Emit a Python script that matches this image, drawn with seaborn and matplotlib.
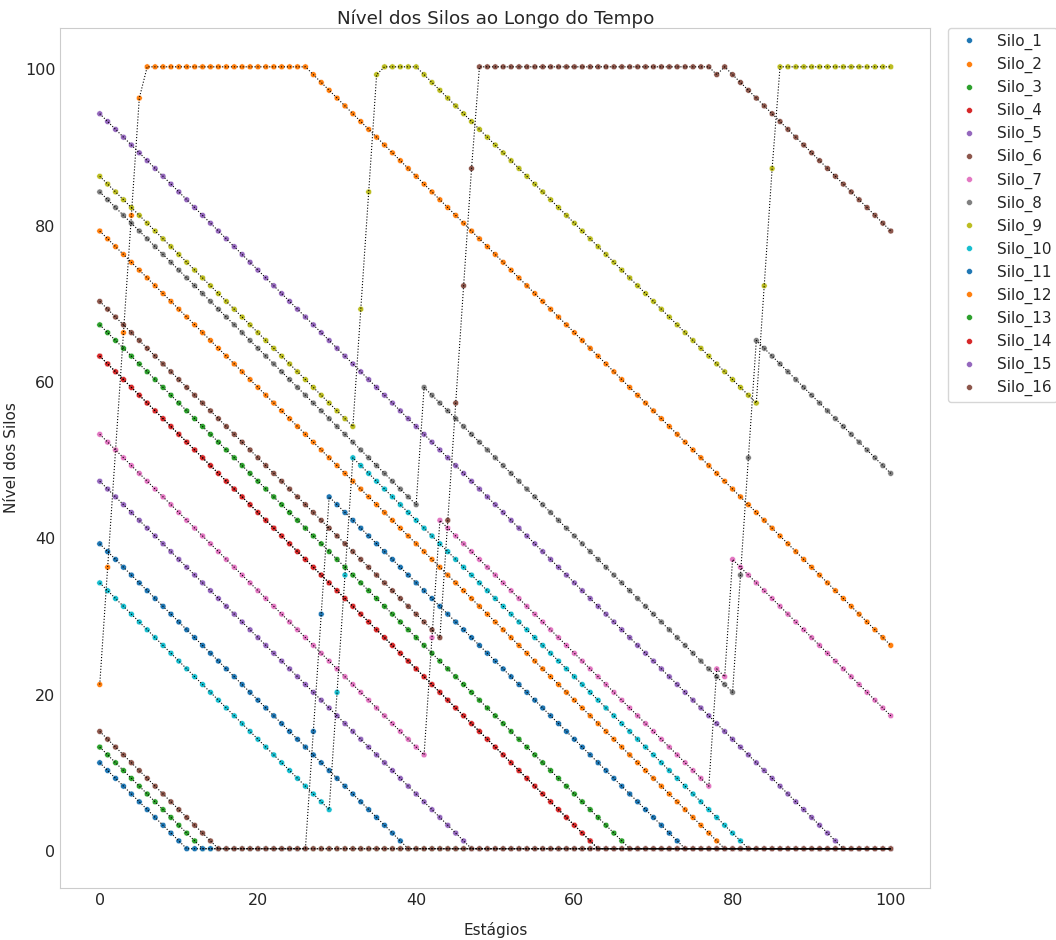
import numpy as np
import pandas as pd
import seaborn as sns
import matplotlib.pyplot as plt

# estágios e nível de cada silo
estagios = list(range(0, 101))

silo_1 = [39.3, 38.3, 37.3, 36.3, 35.3, 34.3, 33.3, 32.3, 31.3, 30.3,
          29.3, 28.3, 27.3, 26.3, 25.3, 24.3, 23.3, 22.3, 21.3, 20.3,
          19.3, 18.3, 17.3, 16.3, 15.3, 14.3, 13.3, 12.3, 11.3, 10.3,
          9.3, 8.3, 7.3, 6.3, 5.3, 4.3, 3.3, 2.3, 1.3, 0.3,
          0.3, 0.3, 0.3, 0.3, 0.3, 0.3, 0.3, 0.3, 0.3, 0.3,
          0.3, 0.3, 0.3, 0.3, 0.3, 0.3, 0.3, 0.3, 0.3, 0.3,
          0.3, 0.3, 0.3, 0.3, 0.3, 0.3, 0.3, 0.3, 0.3, 0.3,
          0.3, 0.3, 0.3, 0.3, 0.3, 0.3, 0.3, 0.3, 0.3, 0.3,
          0.3, 0.3, 0.3, 0.3, 0.3, 0.3, 0.3, 0.3, 0.3, 0.3,
          0.3, 0.3, 0.3, 0.3, 0.3, 0.3, 0.3, 0.3, 0.3, 0.3,
          0.3]

silo_2 = [21.3, 36.3, 51.3, 66.3, 81.3, 96.3, 100.3, 100.3, 100.3, 100.3,
          100.3, 100.3, 100.3, 100.3, 100.3, 100.3, 100.3, 100.3, 100.3, 100.3,
          100.3, 100.3, 100.3, 100.3, 100.3, 100.3, 100.3, 99.3, 98.3, 97.3,
          96.3, 95.3, 94.3, 93.3, 92.3, 91.3, 90.3, 89.3, 88.3, 87.3,
          86.3, 85.3, 84.3, 83.3, 82.3, 81.3, 80.3, 79.3, 78.3, 77.3,
          76.3, 75.3, 74.3, 73.3, 72.3, 71.3, 70.3, 69.3, 68.3, 67.3,
          66.3, 65.3, 64.3, 63.3, 62.3, 61.3, 60.3, 59.3, 58.3, 57.3,
          56.3, 55.3, 54.3, 53.3, 52.3, 51.3, 50.3, 49.3, 48.3, 47.3,
          46.3, 45.3, 44.3, 43.3, 42.3, 41.3, 40.3, 39.3, 38.3, 37.3,
          36.3, 35.3, 34.3, 33.3, 32.3, 31.3, 30.3, 29.3, 28.3, 27.3,
          26.3]

silo_3 = [13.3, 12.3, 11.3, 10.3, 9.3, 8.3, 7.3, 6.3, 5.3, 4.3,
          3.3, 2.3, 1.3, 0.3, 0.3, 0.3, 0.3, 0.3, 0.3, 0.3,
          0.3, 0.3, 0.3, 0.3, 0.3, 0.3, 0.3, 0.3, 0.3, 0.3,
          0.3, 0.3, 0.3, 0.3, 0.3, 0.3, 0.3, 0.3, 0.3, 0.3,
          0.3, 0.3, 0.3, 0.3, 0.3, 0.3, 0.3, 0.3, 0.3, 0.3,
          0.3, 0.3, 0.3, 0.3, 0.3, 0.3, 0.3, 0.3, 0.3, 0.3,
          0.3, 0.3, 0.3, 0.3, 0.3, 0.3, 0.3, 0.3, 0.3, 0.3,
          0.3, 0.3, 0.3, 0.3, 0.3, 0.3, 0.3, 0.3, 0.3, 0.3,
          0.3, 0.3, 0.3, 0.3, 0.3, 0.3, 0.3, 0.3, 0.3, 0.3,
          0.3, 0.3, 0.3, 0.3, 0.3, 0.3, 0.3, 0.3, 0.3, 0.3,
          0.3]

silo_4 = [63.3, 62.3, 61.3, 60.3, 59.3, 58.3, 57.3, 56.3, 55.3, 54.3,
          53.3, 52.3, 51.3, 50.3, 49.3, 48.3, 47.3, 46.3, 45.3, 44.3,
          43.3, 42.3, 41.3, 40.3, 39.3, 38.3, 37.3, 36.3, 35.3, 34.3,
          33.3, 32.3, 31.3, 30.3, 29.3, 28.3, 27.3, 26.3, 25.3, 24.3,
          23.3, 22.3, 21.3, 20.3, 19.3, 18.3, 17.3, 16.3, 15.3, 14.3,
          13.3, 12.3, 11.3, 10.3, 9.3, 8.3, 7.3, 6.3, 5.3, 4.3,
          3.3, 2.3, 1.3, 0.3, 0.3, 0.3, 0.3, 0.3, 0.3, 0.3,
          0.3, 0.3, 0.3, 0.3, 0.3, 0.3, 0.3, 0.3, 0.3, 0.3,
          0.3, 0.3, 0.3, 0.3, 0.3, 0.3, 0.3, 0.3, 0.3, 0.3,
          0.3, 0.3, 0.3, 0.3, 0.3, 0.3, 0.3, 0.3, 0.3, 0.3,
          0.3]

silo_5 = [94.3, 93.3, 92.3, 91.3, 90.3, 89.3, 88.3, 87.3, 86.3, 85.3,
          84.3, 83.3, 82.3, 81.3, 80.3, 79.3, 78.3, 77.3, 76.3, 75.3,
          74.3, 73.3, 72.3, 71.3, 70.3, 69.3, 68.3, 67.3, 66.3, 65.3,
          64.3, 63.3, 62.3, 61.3, 60.3, 59.3, 58.3, 57.3, 56.3, 55.3,
          54.3, 53.3, 52.3, 51.3, 50.3, 49.3, 48.3, 47.3, 46.3, 45.3,
          44.3, 43.3, 42.3, 41.3, 40.3, 39.3, 38.3, 37.3, 36.3, 35.3,
          34.3, 33.3, 32.3, 31.3, 30.3, 29.3, 28.3, 27.3, 26.3, 25.3,
          24.3, 23.3, 22.3, 21.3, 20.3, 19.3, 18.3, 17.3, 16.3, 15.3,
          14.3, 13.3, 12.3, 11.3, 10.3, 9.3, 8.3, 7.3, 6.3, 5.3,
          4.3, 3.3, 2.3, 1.3, 0.3, 0.3, 0.3, 0.3, 0.3, 0.3,
          0.3]

silo_6 = [70.3, 69.3, 68.3, 67.3, 66.3, 65.3, 64.3, 63.3, 62.3, 61.3,
          60.3, 59.3, 58.3, 57.3, 56.3, 55.3, 54.3, 53.3, 52.3, 51.3,
          50.3, 49.3, 48.3, 47.3, 46.3, 45.3, 44.3, 43.3, 42.3, 41.3,
          40.3, 39.3, 38.3, 37.3, 36.3, 35.3, 34.3, 33.3, 32.3, 31.3,
          30.3, 29.3, 28.3, 27.3, 42.3, 57.3, 72.3, 87.3, 100.3, 100.3,
          100.3, 100.3, 100.3, 100.3, 100.3, 100.3, 100.3, 100.3, 100.3, 100.3,
          100.3, 100.3, 100.3, 100.3, 100.3, 100.3, 100.3, 100.3, 100.3, 100.3,
          100.3, 100.3, 100.3, 100.3, 100.3, 100.3, 100.3, 100.3, 99.3, 100.3,
          99.3, 98.3, 97.3, 96.3, 95.3, 94.3, 93.3, 92.3, 91.3, 90.3,
          89.3, 88.3, 87.3, 86.3, 85.3, 84.3, 83.3, 82.3, 81.3, 80.3,
          79.3]

silo_7 = [53.3, 52.3, 51.3, 50.3, 49.3, 48.3, 47.3, 46.3, 45.3, 44.3,
          43.3, 42.3, 41.3, 40.3, 39.3, 38.3, 37.3, 36.3, 35.3, 34.3,
          33.3, 32.3, 31.3, 30.3, 29.3, 28.3, 27.3, 26.3, 25.3, 24.3,
          23.3, 22.3, 21.3, 20.3, 19.3, 18.3, 17.3, 16.3, 15.3, 14.3,
          13.3, 12.3, 27.3, 42.3, 41.3, 40.3, 39.3, 38.3, 37.3, 36.3,
          35.3, 34.3, 33.3, 32.3, 31.3, 30.3, 29.3, 28.3, 27.3, 26.3,
          25.3, 24.3, 23.3, 22.3, 21.3, 20.3, 19.3, 18.3, 17.3, 16.3,
          15.3, 14.3, 13.3, 12.3, 11.3, 10.3, 9.3, 8.3, 23.3, 22.3,
          37.3, 36.3, 35.3, 34.3, 33.3, 32.3, 31.3, 30.3, 29.3, 28.3,
          27.3, 26.3, 25.3, 24.3, 23.3, 22.3, 21.3, 20.3, 19.3, 18.3,
          17.3]

silo_8 = [84.3, 83.3, 82.3, 81.3, 80.3, 79.3, 78.3, 77.3, 76.3, 75.3,
          74.3, 73.3, 72.3, 71.3, 70.3, 69.3, 68.3, 67.3, 66.3, 65.3,
          64.3, 63.3, 62.3, 61.3, 60.3, 59.3, 58.3, 57.3, 56.3, 55.3,
          54.3, 53.3, 52.3, 51.3, 50.3, 49.3, 48.3, 47.3, 46.3, 45.3,
          44.3, 59.3, 58.3, 57.3, 56.3, 55.3, 54.3, 53.3, 52.3, 51.3,
          50.3, 49.3, 48.3, 47.3, 46.3, 45.3, 44.3, 43.3, 42.3, 41.3,
          40.3, 39.3, 38.3, 37.3, 36.3, 35.3, 34.3, 33.3, 32.3, 31.3,
          30.3, 29.3, 28.3, 27.3, 26.3, 25.3, 24.3, 23.3, 22.3, 21.3,
          20.3, 35.3, 50.3, 65.3, 64.3, 63.3, 62.3, 61.3, 60.3, 59.3,
          58.3, 57.3, 56.3, 55.3, 54.3, 53.3, 52.3, 51.3, 50.3, 49.3,
          48.3]

silo_9 = [86.3, 85.3, 84.3, 83.3, 82.3, 81.3, 80.3, 79.3, 78.3, 77.3,
          76.3, 75.3, 74.3, 73.3, 72.3, 71.3, 70.3, 69.3, 68.3, 67.3,
          66.3, 65.3, 64.3, 63.3, 62.3, 61.3, 60.3, 59.3, 58.3, 57.3,
          56.3, 55.3, 54.3, 69.3, 84.3, 99.3, 100.3, 100.3, 100.3, 100.3,
          100.3, 99.3, 98.3, 97.3, 96.3, 95.3, 94.3, 93.3, 92.3, 91.3,
          90.3, 89.3, 88.3, 87.3, 86.3, 85.3, 84.3, 83.3, 82.3, 81.3,
          80.3, 79.3, 78.3, 77.3, 76.3, 75.3, 74.3, 73.3, 72.3, 71.3,
          70.3, 69.3, 68.3, 67.3, 66.3, 65.3, 64.3, 63.3, 62.3, 61.3,
          60.3, 59.3, 58.3, 57.3, 72.3, 87.3, 100.3, 100.3, 100.3, 100.3,
          100.3, 100.3, 100.3, 100.3, 100.3, 100.3, 100.3, 100.3, 100.3, 100.3,
          100.3]

silo_10 = [34.3, 33.3, 32.3, 31.3, 30.3, 29.3, 28.3, 27.3, 26.3, 25.3,
           24.3, 23.3, 22.3, 21.3, 20.3, 19.3, 18.3, 17.3, 16.3, 15.3,
           14.3, 13.3, 12.3, 11.3, 10.3, 9.3, 8.3, 7.3, 6.3, 5.3,
           20.3, 35.3, 50.3, 49.3, 48.3, 47.3, 46.3, 45.3, 44.3, 43.3,
           42.3, 41.3, 40.3, 39.3, 38.3, 37.3, 36.3, 35.3, 34.3, 33.3,
           32.3, 31.3, 30.3, 29.3, 28.3, 27.3, 26.3, 25.3, 24.3, 23.3,
           22.3, 21.3, 20.3, 19.3, 18.3, 17.3, 16.3, 15.3, 14.3, 13.3,
           12.3, 11.3, 10.3, 9.3, 8.3, 7.3, 6.3, 5.3, 4.3, 3.3,
           2.3, 1.3, 0.3, 0.3, 0.3, 0.3, 0.3, 0.3, 0.3, 0.3,
           0.3, 0.3, 0.3, 0.3, 0.3, 0.3, 0.3, 0.3, 0.3, 0.3,
           0.3]

silo_11 = [11.3, 10.3, 9.3, 8.3, 7.3, 6.3, 5.3, 4.3, 3.3, 2.3,
           1.3, 0.3, 0.3, 0.3, 0.3, 0.3, 0.3, 0.3, 0.3, 0.3,
           0.3, 0.3, 0.3, 0.3, 0.3, 0.3, 0.3, 15.3, 30.3, 45.3,
           44.3, 43.3, 42.3, 41.3, 40.3, 39.3, 38.3, 37.3, 36.3, 35.3,
           34.3, 33.3, 32.3, 31.3, 30.3, 29.3, 28.3, 27.3, 26.3, 25.3,
           24.3, 23.3, 22.3, 21.3, 20.3, 19.3, 18.3, 17.3, 16.3, 15.3,
           14.3, 13.3, 12.3, 11.3, 10.3, 9.3, 8.3, 7.3, 6.3, 5.3,
           4.3, 3.3, 2.3, 1.3, 0.3, 0.3, 0.3, 0.3, 0.3, 0.3,
           0.3, 0.3, 0.3, 0.3, 0.3, 0.3, 0.3, 0.3, 0.3, 0.3,
           0.3, 0.3, 0.3, 0.3, 0.3, 0.3, 0.3, 0.3, 0.3, 0.3,
           0.3]

silo_12 = [79.3, 78.3, 77.3, 76.3, 75.3, 74.3, 73.3, 72.3, 71.3, 70.3,
           69.3, 68.3, 67.3, 66.3, 65.3, 64.3, 63.3, 62.3, 61.3, 60.3,
           59.3, 58.3, 57.3, 56.3, 55.3, 54.3, 53.3, 52.3, 51.3, 50.3,
           49.3, 48.3, 47.3, 46.3, 45.3, 44.3, 43.3, 42.3, 41.3, 40.3,
           39.3, 38.3, 37.3, 36.3, 35.3, 34.3, 33.3, 32.3, 31.3, 30.3,
           29.3, 28.3, 27.3, 26.3, 25.3, 24.3, 23.3, 22.3, 21.3, 20.3,
           19.3, 18.3, 17.3, 16.3, 15.3, 14.3, 13.3, 12.3, 11.3, 10.3,
           9.3, 8.3, 7.3, 6.3, 5.3, 4.3, 3.3, 2.3, 1.3, 0.3,
           0.3, 0.3, 0.3, 0.3, 0.3, 0.3, 0.3, 0.3, 0.3, 0.3,
           0.3, 0.3, 0.3, 0.3, 0.3, 0.3, 0.3, 0.3, 0.3, 0.3,
           0.3]

silo_13 = [67.3, 66.3, 65.3, 64.3, 63.3, 62.3, 61.3, 60.3, 59.3, 58.3,
           57.3, 56.3, 55.3, 54.3, 53.3, 52.3, 51.3, 50.3, 49.3, 48.3,
           47.3, 46.3, 45.3, 44.3, 43.3, 42.3, 41.3, 40.3, 39.3, 38.3,
           37.3, 36.3, 35.3, 34.3, 33.3, 32.3, 31.3, 30.3, 29.3, 28.3,
           27.3, 26.3, 25.3, 24.3, 23.3, 22.3, 21.3, 20.3, 19.3, 18.3,
           17.3, 16.3, 15.3, 14.3, 13.3, 12.3, 11.3, 10.3, 9.3, 8.3,
           7.3, 6.3, 5.3, 4.3, 3.3, 2.3, 1.3, 0.3, 0.3, 0.3,
           0.3, 0.3, 0.3, 0.3, 0.3, 0.3, 0.3, 0.3, 0.3, 0.3,
           0.3, 0.3, 0.3, 0.3, 0.3, 0.3, 0.3, 0.3, 0.3, 0.3,
           0.3, 0.3, 0.3, 0.3, 0.3, 0.3, 0.3, 0.3, 0.3, 0.3,
           0.3]

# Silo_14 is not visible on its own: it sits exactly under the Silo_4 curve
silo_14 = list(silo_4)

silo_15 = [47.3, 46.3, 45.3, 44.3, 43.3, 42.3, 41.3, 40.3, 39.3, 38.3,
           37.3, 36.3, 35.3, 34.3, 33.3, 32.3, 31.3, 30.3, 29.3, 28.3,
           27.3, 26.3, 25.3, 24.3, 23.3, 22.3, 21.3, 20.3, 19.3, 18.3,
           17.3, 16.3, 15.3, 14.3, 13.3, 12.3, 11.3, 10.3, 9.3, 8.3,
           7.3, 6.3, 5.3, 4.3, 3.3, 2.3, 1.3, 0.3, 0.3, 0.3,
           0.3, 0.3, 0.3, 0.3, 0.3, 0.3, 0.3, 0.3, 0.3, 0.3,
           0.3, 0.3, 0.3, 0.3, 0.3, 0.3, 0.3, 0.3, 0.3, 0.3,
           0.3, 0.3, 0.3, 0.3, 0.3, 0.3, 0.3, 0.3, 0.3, 0.3,
           0.3, 0.3, 0.3, 0.3, 0.3, 0.3, 0.3, 0.3, 0.3, 0.3,
           0.3, 0.3, 0.3, 0.3, 0.3, 0.3, 0.3, 0.3, 0.3, 0.3,
           0.3]

silo_16 = [15.3, 14.3, 13.3, 12.3, 11.3, 10.3, 9.3, 8.3, 7.3, 6.3,
           5.3, 4.3, 3.3, 2.3, 1.3, 0.3, 0.3, 0.3, 0.3, 0.3,
           0.3, 0.3, 0.3, 0.3, 0.3, 0.3, 0.3, 0.3, 0.3, 0.3,
           0.3, 0.3, 0.3, 0.3, 0.3, 0.3, 0.3, 0.3, 0.3, 0.3,
           0.3, 0.3, 0.3, 0.3, 0.3, 0.3, 0.3, 0.3, 0.3, 0.3,
           0.3, 0.3, 0.3, 0.3, 0.3, 0.3, 0.3, 0.3, 0.3, 0.3,
           0.3, 0.3, 0.3, 0.3, 0.3, 0.3, 0.3, 0.3, 0.3, 0.3,
           0.3, 0.3, 0.3, 0.3, 0.3, 0.3, 0.3, 0.3, 0.3, 0.3,
           0.3, 0.3, 0.3, 0.3, 0.3, 0.3, 0.3, 0.3, 0.3, 0.3,
           0.3, 0.3, 0.3, 0.3, 0.3, 0.3, 0.3, 0.3, 0.3, 0.3,
           0.3]

silos = {
    "Silo_1": silo_1, "Silo_2": silo_2, "Silo_3": silo_3, "Silo_4": silo_4,
    "Silo_5": silo_5, "Silo_6": silo_6, "Silo_7": silo_7, "Silo_8": silo_8,
    "Silo_9": silo_9, "Silo_10": silo_10, "Silo_11": silo_11, "Silo_12": silo_12,
    "Silo_13": silo_13, "Silo_14": silo_14, "Silo_15": silo_15, "Silo_16": silo_16,
}
for nome, v in silos.items():
    assert len(v) == len(estagios), (nome, len(v))

df = pd.DataFrame(silos)
df["Estágio"] = estagios
longo = df.melt(id_vars="Estágio", var_name="Silo", value_name="Nível")

sns.set_style("whitegrid")
plt.rcParams["font.size"] = 11
fig, ax = plt.subplots(figsize=(10.56, 9.4), dpi=100)
fig.subplots_adjust(left=0.057, right=0.881, top=0.9705, bottom=0.0555)

sns.scatterplot(data=longo, x="Estágio", y="Nível", hue="Silo", palette="tab10",
                s=18, ax=ax, zorder=2)
sns.lineplot(data=longo, x="Estágio", y="Nível", units="Silo", estimator=None,
             color="black", linestyle=":", linewidth=0.8, ax=ax, legend=False, zorder=3)

ax.grid(False)
ax.tick_params(length=0, pad=3.5, labelsize=11.5)
ax.set_title("Nível dos Silos ao Longo do Tempo", pad=3)
ax.set_xlabel("Estágios", labelpad=10)
ax.set_ylabel("Nível dos Silos", labelpad=4)

old = ax.get_legend()
handles = old.legend_handles
labels = [t.get_text() for t in old.get_texts()]
old.remove()
ax.legend(handles, labels, loc="upper left", bbox_to_anchor=(1.02, 1),
          borderaxespad=0, labelspacing=0.45)

fig.savefig("out.png", dpi=100)
